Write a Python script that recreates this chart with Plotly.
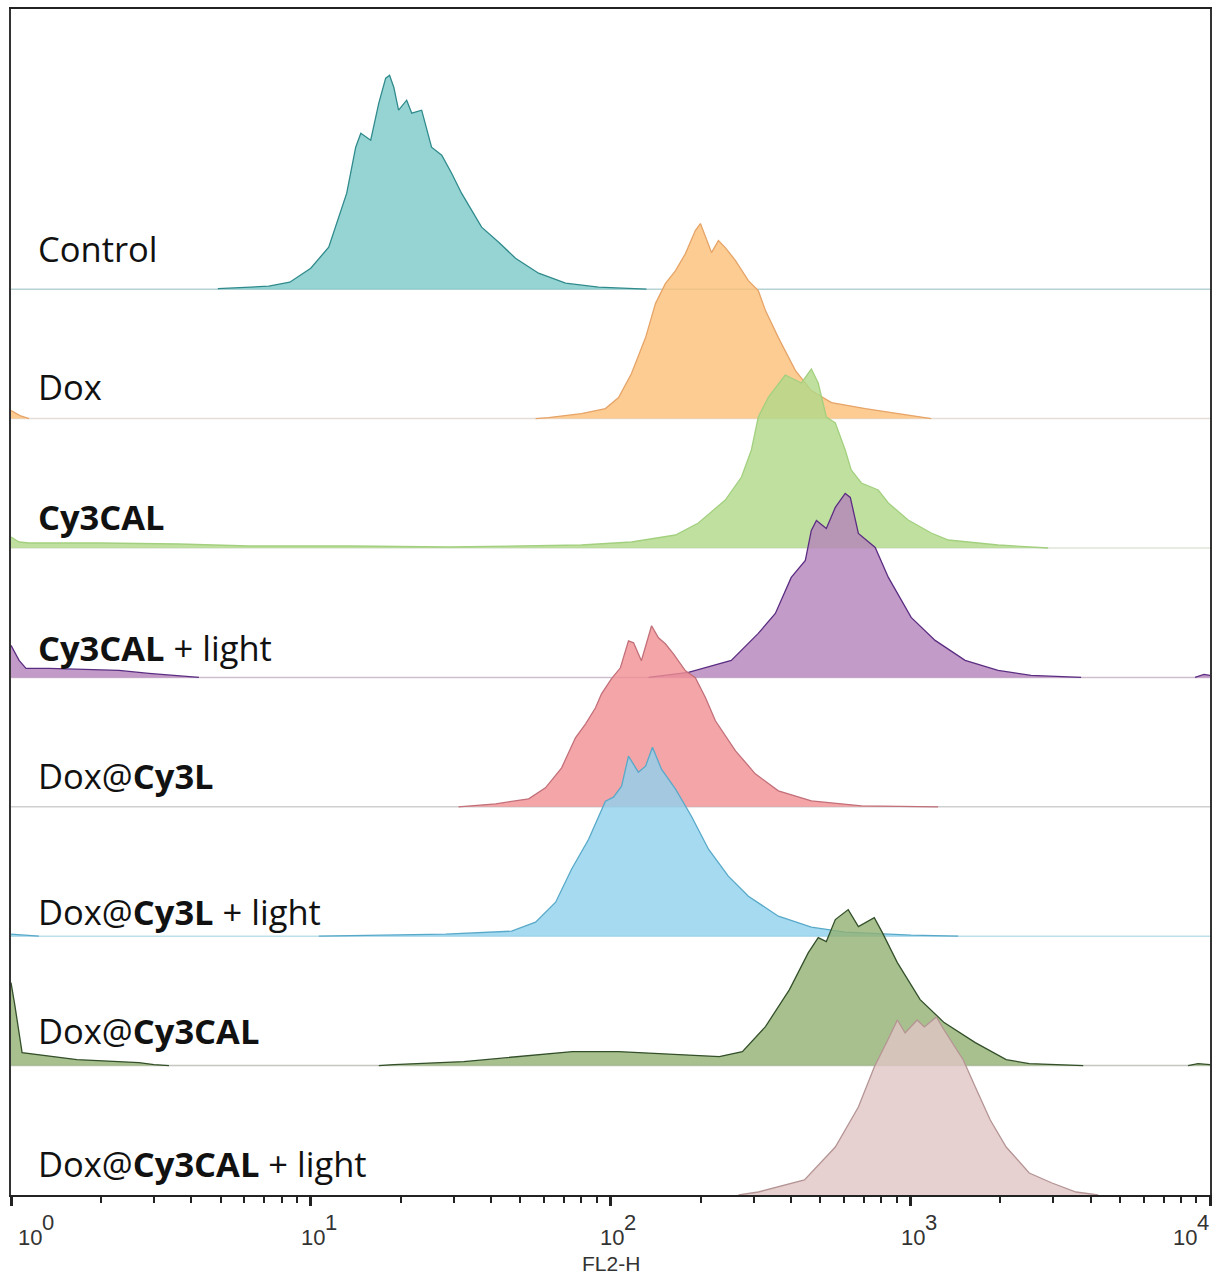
import plotly.graph_objects as go

# Flow cytometry FL2-H histograms, one row per sample (top to bottom).
# x values are log10(FL2-H); counts are relative event counts per channel.
samples = [
    "Control",
    "Dox",
    "<b>Cy3CAL</b>",
    "<b>Cy3CAL</b> + light",
    "Dox@<b>Cy3L</b>",
    "Dox@<b>Cy3L</b> + light",
    "Dox@<b>Cy3CAL</b>",
    "Dox@<b>Cy3CAL</b> + light",
]

control_log = [0.69, 0.86, 0.93, 1.00, 1.06, 1.09, 1.12, 1.15, 1.167, 1.20, 1.227, 1.25, 1.263,
               1.277, 1.293, 1.32, 1.337, 1.37, 1.403, 1.437, 1.47, 1.503, 1.57, 1.627, 1.683,
               1.76, 1.85, 1.96, 2.12]
control_cnt = [0.5, 3, 7, 21, 42, 69, 96, 142, 156, 149, 186, 211, 214,
               202, 179, 189, 176, 179, 142, 134, 116, 96, 62, 47, 31,
               16, 6, 2, 0]

dox_log = [0.0, 0.03, 0.06, 1.75, 1.793, 1.903, 1.983, 2.027, 2.07, 2.117, 2.15, 2.183, 2.217,
           2.25, 2.283, 2.30, 2.317, 2.337, 2.36, 2.383, 2.417, 2.46, 2.493, 2.517, 2.56,
           2.617, 2.67, 2.737, 2.85, 2.96, 3.07]
dox_cnt = [8, 3, 0, 0, 1, 5, 10, 21, 45, 81, 115, 135, 148,
           165, 188, 195, 181, 166, 178, 171, 158, 138, 128, 108, 81,
           48, 28, 16, 10, 5, 0]

cy3cal_log = [0.0, 0.027, 0.06, 0.293, 0.56, 0.793, 1.127, 1.46, 1.903, 2.07, 2.217, 2.293,
              2.383, 2.437, 2.47, 2.493, 2.527, 2.583, 2.637, 2.67, 2.693, 2.72, 2.75, 2.783,
              2.803, 2.837, 2.893, 2.927, 2.993, 3.07, 3.127, 3.293, 3.46]
cy3cal_cnt = [11, 6, 5, 5, 4, 2, 2, 1, 3, 6, 13, 25,
              48, 71, 98, 131, 151, 173, 165, 179, 165, 131, 125, 98,
              78, 65, 58, 45, 28, 15, 8, 3, 0]

cy3cal_light_log = [0.0, 0.027, 0.05, 0.127, 0.36, 0.46, 0.627, 2.127, 2.26, 2.403, 2.493,
                    2.55, 2.603, 2.65, 2.67, 2.687, 2.72, 2.75, 2.783, 2.80, 2.827, 2.883,
                    2.927, 3.003, 3.083, 3.183, 3.293, 3.403, 3.57, 3.95, 3.98, 4.0]
cy3cal_light_cnt = [32, 17, 9, 9, 7, 4, 0, 0, 5, 17, 44,
                    64, 100, 117, 147, 157, 149, 170, 184, 180, 144, 130,
                    100, 60, 37, 17, 7, 2, 0, 0, 3, 2]

dox_cy3l_log = [1.493, 1.617, 1.727, 1.783, 1.837, 1.883, 1.917, 1.95, 1.97, 2.003, 2.033,
                2.06, 2.077, 2.103, 2.137, 2.16, 2.183, 2.21, 2.25, 2.283, 2.317, 2.35,
                2.417, 2.483, 2.56, 2.67, 2.837, 3.093]
dox_cy3l_cnt = [0, 3, 8, 19, 39, 69, 83, 99, 113, 128, 139,
                166, 164, 146, 181, 169, 163, 153, 136, 129, 109, 86,
                56, 33, 16, 6, 1, 0]

dox_cy3l_light_log = [0.0, 0.06, 0.093, 1.027, 1.227, 1.45, 1.67, 1.75, 1.817, 1.87, 1.927,
                      1.96, 1.983, 2.01, 2.037, 2.06, 2.093, 2.117, 2.14, 2.17, 2.217, 2.27,
                      2.327, 2.393, 2.46, 2.56, 2.67, 2.783, 3.003, 3.16]
dox_cy3l_light_cnt = [2, 1, 0, 0, 1, 2, 5, 14, 34, 67, 97,
                      120, 135, 139, 150, 180, 164, 170, 189, 167, 147, 120,
                      87, 60, 40, 20, 9, 4, 1, 0]

dox_cy3cal_log = [0.0, 0.013, 0.037, 0.22, 0.427, 0.477, 0.527, 1.227, 1.277, 1.51, 1.667,
                  1.873, 2.027, 2.183, 2.363, 2.44, 2.517, 2.597, 2.66, 2.693, 2.72, 2.75,
                  2.793, 2.827, 2.88, 2.907, 2.957, 3.033, 3.113, 3.217, 3.32, 3.397, 3.577,
                  3.927, 3.96, 4.0]
dox_cy3cal_cnt = [83, 60, 13, 6, 3, 1, 0, 0, 1, 4, 8,
                  14, 14, 12, 9, 14, 39, 76, 113, 128, 124, 146,
                  156, 139, 148, 133, 103, 66, 43, 23, 6, 2, 0,
                  0, 2, 1]

dox_cy3cal_light_log = [2.427, 2.493, 2.647, 2.75, 2.827, 2.88, 2.93, 2.957, 2.983, 3.023,
                        3.047, 3.087, 3.113, 3.177, 3.217, 3.267, 3.32, 3.397, 3.473, 3.553,
                        3.627]
dox_cy3cal_light_cnt = [0, 3, 15, 48, 88, 128, 158, 175, 162, 175,
                        168, 178, 165, 135, 108, 75, 48, 22, 12, 3,
                        0]

series_log = [control_log, dox_log, cy3cal_log, cy3cal_light_log,
              dox_cy3l_log, dox_cy3l_light_log, dox_cy3cal_log, dox_cy3cal_light_log]
series_cnt = [control_cnt, dox_cnt, cy3cal_cnt, cy3cal_light_cnt,
              dox_cy3l_cnt, dox_cy3l_light_cnt, dox_cy3cal_cnt, dox_cy3cal_light_cnt]

decade_exponents = [0, 1, 2, 3, 4]

# ---- styling ----
fill_colors = [
    "rgba(124,201,201,0.8)",
    "rgba(251,191,119,0.8)",
    "rgba(176,216,136,0.8)",
    "rgba(180,130,186,0.8)",
    "rgba(241,143,146,0.8)",
    "rgba(143,209,236,0.8)",
    "rgba(146,176,114,0.8)",
    "rgba(224,196,196,0.8)",
]
line_colors = ["#2f8a8c", "#e6a468", "#a3d07f", "#5b2d82",
               "#c2707a", "#58a9c9", "#33502a", "#b59494"]
baseline_colors = ["#b7d2d5", "#e6ddd6", "#dfe6da", "#cdbfd0",
                   "#cfcfcf", "#bfdfea", "#c4c8c0", "#c9bcbc"]

ROW_GAP = 129.4
Y_TOP = 1186
n = len(samples)
offsets = [ROW_GAP * (n - 1 - i) for i in range(n)]
label_lift = [41, 32, 32, 30, 31, 25, 35, 32]

fig = go.Figure()

for i in range(n):
    xs = [10 ** v for v in series_log[i]]
    ys = [offsets[i] + c for c in series_cnt[i]]
    base = offsets[i]
    # filled area closed down to the row baseline
    fig.add_trace(go.Scatter(
        x=xs + [xs[-1], xs[0]],
        y=ys + [base, base],
        fill="toself", fillcolor=fill_colors[i],
        mode="lines", line=dict(width=0),
        hoverinfo="skip", showlegend=False,
    ))
    # outline, broken wherever it would run along the empty baseline
    lx, ly = [], []
    for j, (xv, c) in enumerate(zip(xs, series_cnt[i])):
        if j > 0 and c == 0 and series_cnt[i][j - 1] == 0:
            lx.append(None)
            ly.append(None)
        lx.append(xv)
        ly.append(base + c)
    fig.add_trace(go.Scatter(
        x=lx, y=ly, mode="lines",
        line=dict(color=line_colors[i], width=1.3),
        connectgaps=False, hoverinfo="skip", showlegend=False,
    ))

shapes = []
for i in range(n - 1):
    shapes.append(dict(
        type="line", xref="paper", yref="y", x0=0, x1=1,
        y0=offsets[i], y1=offsets[i],
        line=dict(color=baseline_colors[i], width=1.5), layer="below",
    ))

annotations = []
for i in range(n):
    annotations.append(dict(
        text=samples[i], xref="paper", yref="y",
        x=0.0205, y=offsets[i] + label_lift[i],
        xanchor="left", yanchor="middle", showarrow=False,
        font=dict(family="Open Sans", size=34.5, color="#111111"),
    ))

base_shift = [19, 2, 1, 3, -25]
for k, e in enumerate(decade_exponents):
    annotations.append(dict(
        text="10", xref="x", yref="paper", x=e, y=0,
        xanchor="center", yanchor="middle", xshift=base_shift[k], yshift=-42,
        showarrow=False, font=dict(family="Liberation Sans", size=22, color="#333333"),
    ))
    annotations.append(dict(
        text=str(e), xref="x", yref="paper", x=e, y=0,
        xanchor="center", yanchor="middle", xshift=base_shift[k] + 18, yshift=-27,
        showarrow=False, font=dict(family="Liberation Sans", size=22, color="#333333"),
    ))
annotations.append(dict(
    text="FL2-H", xref="x", yref="paper", x=2, y=0,
    xanchor="center", yanchor="middle", yshift=-68, showarrow=False,
    font=dict(family="Liberation Sans", size=21, color="#333333"),
))

minor_vals = [m * 10 ** d for d in range(4) for m in range(2, 10)]

fig.update_layout(
    width=1214, height=1274,
    margin=dict(l=11, r=2, t=9, b=79),
    paper_bgcolor="white", plot_bgcolor="white",
    shapes=shapes, annotations=annotations,
    xaxis=dict(
        type="log", range=[0, 4],
        showline=True, linecolor="#222222", linewidth=2, mirror=True,
        ticks="outside", tickvals=[10 ** e for e in decade_exponents],
        ticklen=9, tickwidth=3, tickcolor="#222222",
        showticklabels=False, showgrid=False, zeroline=False,
        minor=dict(tickvals=minor_vals, ticks="outside", ticklen=6,
                   tickwidth=1.5, tickcolor="#222222", showgrid=False),
    ),
    yaxis=dict(
        range=[0, Y_TOP], showline=True, linecolor="#333333", linewidth=2,
        mirror=True, ticks="", showticklabels=False, showgrid=False, zeroline=False,
    ),
)

fig.write_html("out.html")
